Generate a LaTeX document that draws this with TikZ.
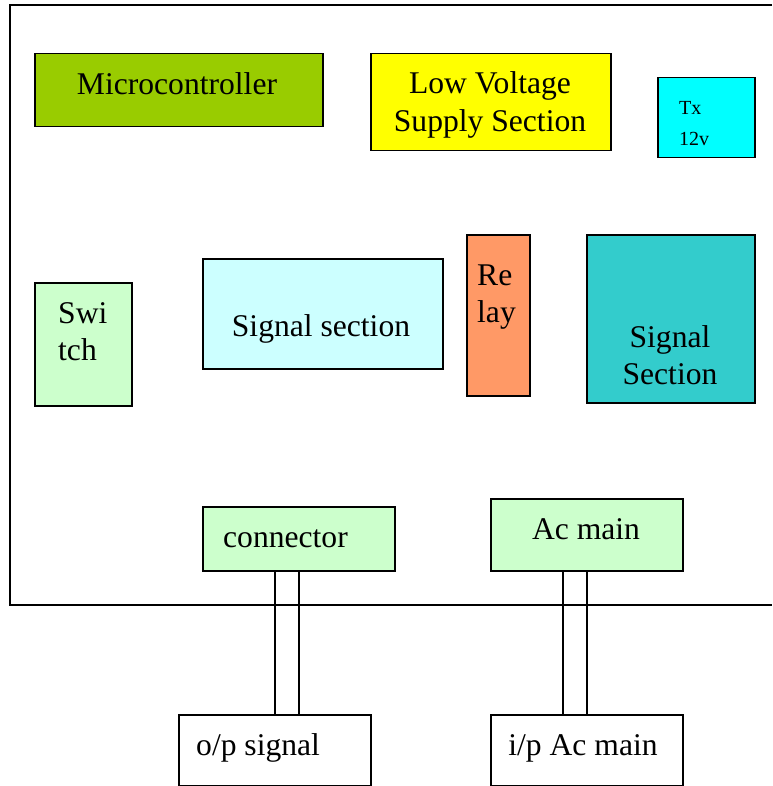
\documentclass[tikz,border=0pt]{standalone}
\usepackage{fontspec}
\setmainfont{Liberation Serif}
\usetikzlibrary{positioning}
\definecolor{mcugreen}{HTML}{99CC00}
\definecolor{supplyyellow}{HTML}{FFFF00}
\definecolor{txcyan}{HTML}{00FFFF}
\definecolor{palegreen}{HTML}{CCFFCC}
\definecolor{palecyan}{HTML}{CCFFFF}
\definecolor{relayorange}{HTML}{FF9966}
\definecolor{sectionteal}{HTML}{33CCCC}
\begin{document}
\begin{tikzpicture}[x=1pt,y=-1pt,
    blockbox/.style={draw,line width=1.5pt,inner sep=0pt,anchor=north west},
    blocktext/.style={font=\fontsize{31.6}{37}\selectfont,inner sep=0pt,anchor=base},
    smalltext/.style={font=\fontsize{20}{32}\selectfont,inner sep=0pt,anchor=base west},
    wire/.style={line width=1.5pt}]
        \useasboundingbox (0,0) rectangle (772,786);
        \draw[line width=1.5pt] (772,5) -- (10,5) -- (10,605) -- (772,605);
        \node[blockbox,fill=mcugreen,minimum width=288,minimum height=73] (mcu) at (34,53) {};
        \node[blockbox,fill=supplyyellow,minimum width=240,minimum height=97] (lvs) at (370,53) {};
        \node[blockbox,fill=txcyan,minimum width=97,minimum height=80] (tx) at (657,77) {};
        \node[blockbox,fill=palegreen,minimum width=97,minimum height=123] (sw) at (34,282) {};
        \node[blockbox,fill=palecyan,minimum width=240,minimum height=110] (sig) at (202,258) {};
        \node[blockbox,fill=relayorange,minimum width=63,minimum height=161] (rly) at (466,234) {};
        \node[blockbox,fill=sectionteal,minimum width=168,minimum height=168] (sec) at (586,234) {};
        \node[blockbox,fill=palegreen,minimum width=192,minimum height=64] (conn) at (202,506) {};
        \node[blockbox,fill=palegreen,minimum width=192,minimum height=72] (ac) at (490,498) {};
        \node[blockbox,fill=white,minimum width=192,minimum height=71] (op) at (178,714) {};
        \node[blockbox,fill=white,minimum width=192,minimum height=71] (ipac) at (490,714) {};
        \node[blocktext] (mcutxt) at (177,95) {Microcontroller};
        \node[blocktext] (lvstxta) at (490,94) {Low Voltage};
        \node[blocktext] (lvstxtb) at (490,132) {Supply Section};
        \node[smalltext] (txtxta) at (679,115) {Tx};
        \node[smalltext] (txtxtb) at (679,146) {12v};
        \node[blocktext,anchor=base west] (swtxta) at (58,323) {Swi};
        \node[blocktext,anchor=base west] (swtxtb) at (58,360) {tch};
        \node[blocktext] (sigtxt) at (321,336) {Signal section};
        \node[blocktext,anchor=base west] (rlytxta) at (477,285) {Re};
        \node[blocktext,anchor=base west] (rlytxtb) at (477,322) {lay};
        \node[blocktext] (sectxta) at (670,347) {Signal};
        \node[blocktext] (sectxtb) at (670,384) {Section};
        \node[blocktext,anchor=base west] (conntxt) at (223,547) {connector};
        \node[blocktext] (actxt) at (586,539) {Ac main};
        \node[blocktext,anchor=base west] (optxt) at (196,755) {o/p signal};
        \node[blocktext] (ipactxt) at (583,755) {i/p Ac main};
        \draw[wire] (conn.south) -- (conn.south |- op.north);
        \draw[wire] (op.north) -- (op.north |- conn.south);
        \draw[wire] (ac.south) -- (ipac.north);
        \draw[wire] ([xshift=-24pt]ac.south) -- ([xshift=-24pt]ipac.north);
        \end{tikzpicture}
\end{document}
